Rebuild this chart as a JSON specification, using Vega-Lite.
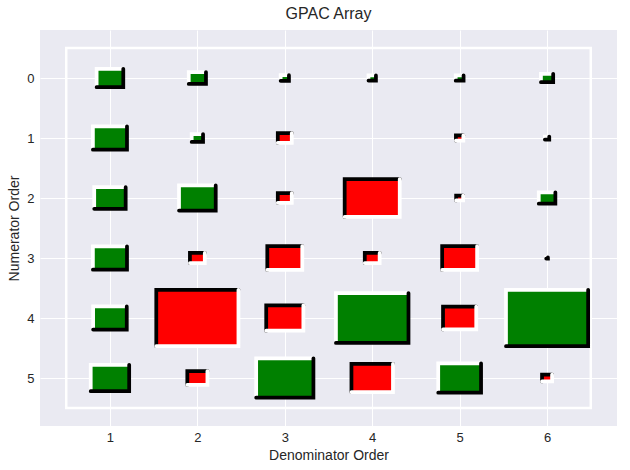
{
  "$schema": "https://vega.github.io/schema/vega-lite/v6.json",
  "width": 577,
  "height": 396,
  "autosize": "none",
  "padding": {"left": 40, "top": 30, "right": 13, "bottom": 44},
  "background": "white",
  "title": {"text": "GPAC Array", "fontSize": 16, "font": "Liberation Sans", "fontWeight": "normal", "color": "#262626", "anchor": "middle", "offset": 8},
  "config": {
    "view": {"fill": "#EAEAF2", "stroke": null},
    "axis": {"domain": false, "ticks": false, "grid": true, "gridColor": "#FFFFFF", "gridWidth": 1, "gridOpacity": 1,
      "labelFont": "Liberation Sans", "labelFontSize": 13, "labelColor": "#262626",
      "titleFont": "Liberation Sans", "titleFontSize": 14, "titleFontWeight": "normal", "titleColor": "#262626"},
    "axisX": {"labelPadding": 5, "titlePadding": 4},
    "axisY": {"labelPadding": 6, "titlePadding": 5}
  },
  "datasets": {
    "gpac": [
      {"denom": 1, "numer": 0, "value": 0.305},
      {"denom": 2, "numer": 0, "value": 0.197},
      {"denom": 3, "numer": 0, "value": 0.095},
      {"denom": 4, "numer": 0, "value": 0.085},
      {"denom": 5, "numer": 0, "value": 0.09},
      {"denom": 6, "numer": 0, "value": 0.14},
      {"denom": 1, "numer": 1, "value": 0.39},
      {"denom": 2, "numer": 1, "value": 0.13},
      {"denom": 3, "numer": 1, "value": -0.16},
      {"denom": 5, "numer": 1, "value": -0.085},
      {"denom": 6, "numer": 1, "value": 0.05},
      {"denom": 1, "numer": 2, "value": 0.36},
      {"denom": 2, "numer": 2, "value": 0.42},
      {"denom": 3, "numer": 2, "value": -0.16},
      {"denom": 4, "numer": 2, "value": -0.63},
      {"denom": 5, "numer": 2, "value": -0.08},
      {"denom": 6, "numer": 2, "value": 0.19},
      {"denom": 1, "numer": 3, "value": 0.39},
      {"denom": 2, "numer": 3, "value": -0.17},
      {"denom": 3, "numer": 3, "value": -0.4},
      {"denom": 4, "numer": 3, "value": -0.17},
      {"denom": 5, "numer": 3, "value": -0.4},
      {"denom": 6, "numer": 3, "value": 0.02},
      {"denom": 1, "numer": 4, "value": 0.385},
      {"denom": 2, "numer": 4, "value": -0.94},
      {"denom": 3, "numer": 4, "value": -0.425},
      {"denom": 4, "numer": 4, "value": 0.83},
      {"denom": 5, "numer": 4, "value": -0.38},
      {"denom": 6, "numer": 4, "value": 0.94},
      {"denom": 1, "numer": 5, "value": 0.44},
      {"denom": 2, "numer": 5, "value": -0.23},
      {"denom": 3, "numer": 5, "value": 0.655},
      {"denom": 4, "numer": 5, "value": -0.475},
      {"denom": 5, "numer": 5, "value": 0.49},
      {"denom": 6, "numer": 5, "value": -0.115}
    ],
    "frame": [{"part": "border"}]
  },
  "resolve": {"scale": {"size": "independent"}},
  "layer": [
    {
      "data": {"name": "frame"},
      "mark": {"type": "rect", "filled": false, "color": "#FFFFFF", "strokeWidth": 2.5},
      "encoding": {
        "x": {"datum": 0.5, "type": "quantitative", "title": "Denominator Order",
          "scale": {"domain": [0.2, 6.8], "nice": false, "zero": false},
          "axis": {"values": [1, 2, 3, 4, 5, 6], "format": "d"}},
        "x2": {"datum": 6.5},
        "y": {"datum": -0.5, "type": "quantitative", "title": "Numerator Order",
          "scale": {"domain": [-0.8, 5.8], "reverse": true, "nice": false, "zero": false},
          "axis": {"values": [0, 1, 2, 3, 4, 5], "format": "d"}},
        "y2": {"datum": 5.5}
      }
    },
    {
      "data": {"name": "gpac"},
      "transform": [{"filter": "datum.value > 0"}],
      "encoding": {
        "x": {"field": "denom", "type": "quantitative", "title": "Denominator Order"},
        "y": {"field": "numer", "type": "quantitative", "title": "Numerator Order"},
        "size": {"field": "value", "type": "quantitative", "legend": null,
          "scale": {"type": "pow", "exponent": 2, "domain": [0, 1], "range": [0, 7642]}}
      },
      "layer": [
        {"mark": {"type": "point", "shape": "M-1,-0.6863L1,-0.6863L1,0.6863L-1,0.6863Z", "filled": true, "color": "#008000", "strokeWidth": 0, "opacity": 1}},
        {"mark": {"type": "point", "shape": "M-1,0.6863L-1,-0.6863L1,-0.6863", "filled": false, "stroke": "#FFFFFF", "strokeWidth": 3.75, "strokeCap": "round", "opacity": 1}},
        {"mark": {"type": "point", "shape": "M-1,0.6863L1,0.6863L1,-0.6863", "filled": false, "stroke": "#000000", "strokeWidth": 3.75, "strokeCap": "round", "opacity": 1}}
      ]
    },
    {
      "data": {"name": "gpac"},
      "transform": [{"filter": "datum.value < 0"}],
      "encoding": {
        "x": {"field": "denom", "type": "quantitative", "title": "Denominator Order"},
        "y": {"field": "numer", "type": "quantitative", "title": "Numerator Order"},
        "size": {"field": "value", "type": "quantitative", "legend": null,
          "scale": {"type": "pow", "exponent": 2, "domain": [-1, 0], "range": [7642, 0]}}
      },
      "layer": [
        {"mark": {"type": "point", "shape": "M-1,-0.6863L1,-0.6863L1,0.6863L-1,0.6863Z", "filled": true, "color": "#FF0000", "strokeWidth": 0, "opacity": 1}},
        {"mark": {"type": "point", "shape": "M-1,0.6863L-1,-0.6863L1,-0.6863", "filled": false, "stroke": "#000000", "strokeWidth": 3.75, "strokeCap": "round", "opacity": 1}},
        {"mark": {"type": "point", "shape": "M-1,0.6863L1,0.6863L1,-0.6863", "filled": false, "stroke": "#FFFFFF", "strokeWidth": 3.75, "strokeCap": "round", "opacity": 1}}
      ]
    }
  ]
}
